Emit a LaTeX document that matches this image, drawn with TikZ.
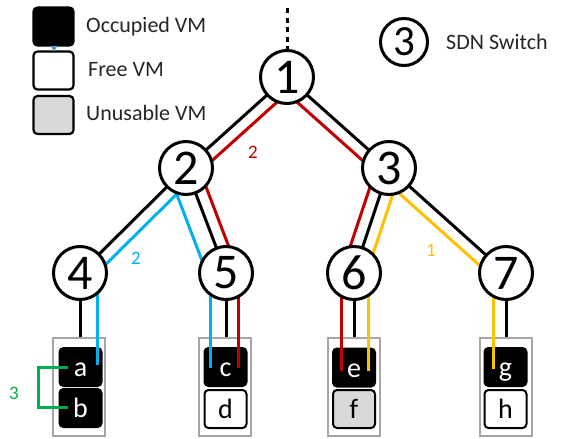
\documentclass[tikz,border=0pt]{standalone}
\usepackage{fontspec}
\setmainfont{Carlito}
\usetikzlibrary{calc}
\definecolor{cred}{HTML}{C00000}
\definecolor{cblue}{HTML}{00B0F0}
\definecolor{cyellow}{HTML}{FFC000}
\definecolor{cgreen}{HTML}{00B050}
\definecolor{rackgray}{HTML}{A6A6A6}
\definecolor{vmgray}{HTML}{D9D9D9}
\definecolor{tri}{HTML}{5B9BD5}
\begin{document}
\begin{tikzpicture}[x=1pt,y=-1pt,
  sw/.style={circle,draw=black,line width=3pt,fill=white,minimum size=53pt,inner sep=0pt,font=\fontsize{50}{50}\selectfont},
  swsmall/.style={sw,minimum size=47pt,font=\fontsize{43}{43}\selectfont},
  link/.style={line width=3pt},
  rack/.style={draw=rackgray,line width=2.2pt,minimum width=52pt,minimum height=98pt,inner sep=0pt},
  vm/.style={rounded corners=4pt,line width=2pt,minimum width=42pt,minimum height=38pt,inner sep=0pt,text height=19pt,text depth=0pt,font=\fontsize{28}{28}\selectfont},
  vmocc/.style={vm,draw=black,fill=black,text=white},
  vmfree/.style={vm,draw=black,fill=white},
  vmbad/.style={vm,draw=black,fill=vmgray},
  legbox/.style={rounded corners=4pt,line width=2.2pt,minimum width=40pt,minimum height=38pt,inner sep=0pt},
  legtext/.style={anchor=west,inner sep=0pt,font=\fontsize{22}{22}\selectfont,text=black!85},
  lbl/.style={inner sep=0pt,font=\fontsize{19}{19}\selectfont}]
\useasboundingbox[fill=white] (0,0) rectangle (563,439);

% switch positions
\coordinate (p1) at (287,77);
\coordinate (p2) at (186,168);
\coordinate (p3) at (389,168);
\coordinate (p4) at (80,273);
\coordinate (p5) at (226,273);
\coordinate (p6) at (354,273);
\coordinate (p7) at (506,273);
\coordinate (top) at (287,8);

% legend
\node[legbox,draw=black,fill=black] (lg1) at (53.5,26.5) {};
\node[legbox,draw=black,fill=white] (lg2) at (53.5,70.5) {};
\node[legbox,draw=black,fill=vmgray] (lg3) at (53.5,115) {};
\fill[tri] (50.5,46) -- (57.5,46) -- (54,51.5) -- cycle;
\node[legtext] (lt1) at (86,27) {Occupied VM};
\node[legtext] (lt2) at (88,70) {Free VM};
\node[legtext] (lt3) at (86,113) {Unusable VM};
\node[swsmall] (ls) at (404,42) {3};
\node[legtext] (lst) at (446,42) {SDN Switch};

% black links
\draw[link,dash pattern=on 5pt off 4.5pt] (top) -- (p1);
\draw[link] (p1) -- (p2);
\draw[link] (p1) -- (p3);
\draw[link] (p2) -- (p4);
\draw[link] (p2) -- (p5);
\draw[link] (p3) -- (p6);
\draw[link] (p3) -- (p7);

% coloured paths
\draw[link,cred] ($(p1)!12pt!90:(p2)$) -- ($(p2)!12pt!-90:(p1)$);
\draw[link,cred] ($(p1)!-12pt!90:(p3)$) -- ($(p3)!-12pt!-90:(p1)$);
\draw[link,cblue] ($(p2)!12pt!90:(p4)$) -- ($(p4)!12pt!-90:(p2)$);
\draw[link,cblue] ($(p2)!-18pt!90:(p5)$) -- ($(p5)!-18pt!-90:(p2)$);
\draw[link,cred] ($(p2)!12pt!90:(p5)$) -- ($(p5)!12pt!-90:(p2)$);
\draw[link,cred] ($(p3)!-12pt!90:(p6)$) -- ($(p6)!-12pt!-90:(p3)$);
\draw[link,cyellow] ($(p3)!12pt!90:(p6)$) -- ($(p6)!12pt!-90:(p3)$);
\draw[link,cyellow] ($(p3)!-12pt!90:(p7)$) -- ($(p7)!-12pt!-90:(p3)$);

% racks
\node[rack] (r1) at (79,387) {};
\node[rack] (r2) at (225,387) {};
\node[rack] (r3) at (354,387) {};
\node[rack] (r4) at (506,387) {};

% black links down to racks
\draw[link] (p4) -- (p4 |- r1.north);
\draw[link] (p5) -- (p5 |- r2.north);
\draw[link] (p6) -- (p6 |- r3.north);
\draw[link] (p7) -- (p7 |- r4.north);

% VMs
\node[vmocc] (a) at (80.5,367) {a};
\node[vmocc] (b) at (80.5,408) {b};
\node[vmocc] (c) at (225.5,367) {c};
\node[vmfree] (d) at (225.5,409) {d};
\node[vmocc] (e) at (354,367.5) {e};
\node[vmbad] (f) at (354,409) {f};
\node[vmocc] (g) at (505.5,367) {g};
\node[vmfree] (h) at (505.5,409) {h};

% coloured drops into VMs
\draw[link,cblue] ([xshift=17pt]p4) -- ([xshift=17pt,yshift=2pt]p4 |- a.center);
\draw[link,cblue] ([xshift=-16pt]p5) -- ([xshift=-16pt,yshift=-1pt]p5 |- c.center);
\draw[link,cred] ([xshift=12pt]p5) -- ([xshift=12pt,yshift=-1pt]p5 |- c.center);
\draw[link,cred] ([xshift=-13pt]p6) -- ([xshift=-13pt,yshift=-3pt]p6 |- e.center);
\draw[link,cyellow] ([xshift=14pt]p6) -- ([xshift=14pt,yshift=-3pt]p6 |- e.center);
\draw[link,cyellow] ([xshift=-13pt]p7) -- ([xshift=-13pt,yshift=-2pt]p7 |- g.center);

% green bracket between a and b
\coordinate (ga) at ([xshift=-13pt]a.center);
\coordinate (gb) at ([xshift=-13pt,yshift=1pt]b.center);
\coordinate (gx) at (38,0);
\draw[link,cgreen] (ga) -- (ga -| gx) -- (gb -| gx) -- (gb);

% switches
\node[sw] (n1) at (p1) {1};
\node[sw] (n2) at (p2) {2};
\node[sw] (n3) at (p3) {3};
\node[sw] (n4) at (p4) {4};
\node[sw] (n5) at (p5) {5};
\node[sw] (n6) at (p6) {6};
\node[sw] (n7) at (p7) {7};

% path labels
\node[lbl,text=cred] (l12) at (253,152) {2};
\node[lbl,text=cblue] (l24) at (136,258) {2};
\node[lbl,text=cyellow] (l37) at (431,250) {1};
\node[lbl,text=cgreen] (lab) at (14,393) {3};
\end{tikzpicture}
\end{document}
